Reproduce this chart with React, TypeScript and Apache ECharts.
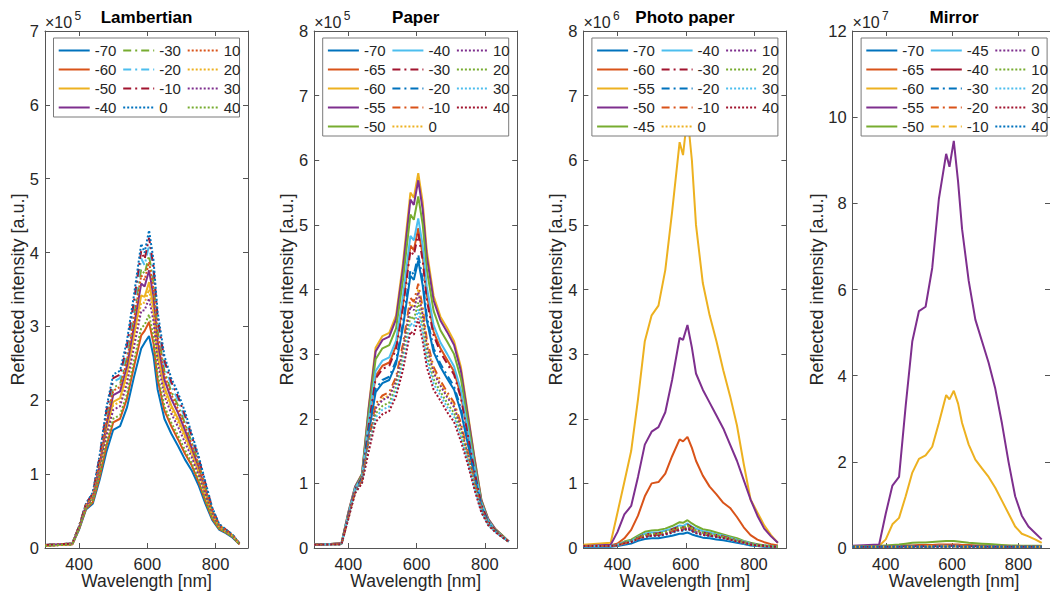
import React, { useEffect, useRef } from "react";
import * as echarts from "echarts";

// Wavelength grid [nm]
const WL = [300, 380, 400, 420, 440, 460, 480, 500, 520, 540, 560, 582, 592, 605, 618, 630, 650, 670, 690, 710, 730, 750, 770, 790, 810, 830, 850, 870];

// Lambertian (x1e5)
const LAM_M70 = [0.03, 0.05, 0.25, 0.52, 0.6, 0.92, 1.3, 1.6, 1.65, 1.9, 2.3, 2.7, 2.78, 2.87, 2.6, 2.15, 1.75, 1.55, 1.38, 1.2, 1.05, 0.85, 0.6, 0.38, 0.25, 0.2, 0.14, 0.05];
const LAM_M60 = [0.03, 0.05, 0.26, 0.53, 0.62, 0.96, 1.38, 1.7, 1.75, 2.02, 2.44, 2.88, 2.94, 3.06, 2.77, 2.29, 1.86, 1.65, 1.47, 1.28, 1.12, 0.9, 0.64, 0.4, 0.26, 0.21, 0.15, 0.05];
const LAM_M50 = [0.03, 0.05, 0.28, 0.56, 0.68, 1.09, 1.61, 1.98, 2.03, 2.36, 2.86, 3.42, 3.4, 3.6, 3.26, 2.69, 2.18, 1.93, 1.75, 1.53, 1.31, 1.05, 0.75, 0.47, 0.29, 0.23, 0.16, 0.06];
const LAM_M40 = [0.04, 0.06, 0.28, 0.57, 0.69, 1.12, 1.67, 2.07, 2.12, 2.46, 2.98, 3.58, 3.54, 3.76, 3.41, 2.8, 2.28, 2.02, 1.83, 1.6, 1.36, 1.1, 0.79, 0.49, 0.3, 0.23, 0.16, 0.06];
const LAM_M30 = [0.04, 0.06, 0.29, 0.58, 0.71, 1.17, 1.76, 2.17, 2.22, 2.58, 3.14, 3.78, 3.71, 3.96, 3.59, 2.95, 2.4, 2.12, 1.93, 1.69, 1.43, 1.15, 0.83, 0.51, 0.31, 0.24, 0.17, 0.06];
const LAM_M20 = [0.04, 0.06, 0.29, 0.59, 0.73, 1.2, 1.82, 2.25, 2.3, 2.67, 3.25, 3.92, 3.83, 4.1, 3.72, 3.05, 2.48, 2.2, 2.0, 1.76, 1.48, 1.19, 0.86, 0.53, 0.32, 0.24, 0.17, 0.06];
const LAM_M10 = [0.04, 0.06, 0.3, 0.6, 0.74, 1.23, 1.86, 2.3, 2.35, 2.74, 3.32, 4.02, 3.91, 4.2, 3.81, 3.13, 2.54, 2.25, 2.05, 1.8, 1.52, 1.22, 0.88, 0.54, 0.32, 0.25, 0.18, 0.06];
const LAM_0 = [0.04, 0.06, 0.3, 0.6, 0.75, 1.25, 1.9, 2.35, 2.4, 2.8, 3.4, 4.12, 4.0, 4.3, 3.9, 3.2, 2.6, 2.3, 2.1, 1.85, 1.55, 1.25, 0.9, 0.55, 0.33, 0.25, 0.18, 0.06];
const LAM_10 = [0.04, 0.06, 0.29, 0.58, 0.71, 1.15, 1.72, 2.13, 2.18, 2.53, 3.07, 3.69, 3.63, 3.87, 3.51, 2.89, 2.35, 2.08, 1.88, 1.66, 1.4, 1.13, 0.81, 0.5, 0.31, 0.24, 0.17, 0.06];
const LAM_20 = [0.03, 0.05, 0.27, 0.56, 0.67, 1.07, 1.56, 1.93, 1.98, 2.3, 2.78, 3.32, 3.32, 3.5, 3.17, 2.61, 2.12, 1.88, 1.7, 1.49, 1.27, 1.03, 0.73, 0.45, 0.29, 0.22, 0.16, 0.05];
const LAM_30 = [0.03, 0.05, 0.27, 0.55, 0.65, 1.04, 1.52, 1.87, 1.92, 2.22, 2.7, 3.21, 3.22, 3.38, 3.07, 2.53, 2.06, 1.82, 1.64, 1.43, 1.23, 0.99, 0.71, 0.44, 0.28, 0.22, 0.15, 0.05];
const LAM_40 = [0.03, 0.05, 0.26, 0.54, 0.63, 0.99, 1.42, 1.75, 1.8, 2.08, 2.52, 2.98, 3.02, 3.16, 2.86, 2.36, 1.92, 1.7, 1.52, 1.33, 1.15, 0.93, 0.66, 0.41, 0.27, 0.21, 0.15, 0.05];

// Paper (x1e5)
const PAP_M70 = [0.05, 0.06, 0.49, 0.89, 1.06, 1.78, 2.41, 2.55, 2.6, 2.85, 3.41, 4.21, 4.15, 4.45, 4.06, 3.52, 3.03, 2.8, 2.62, 2.45, 2.11, 1.62, 1.1, 0.63, 0.39, 0.27, 0.18, 0.1];
const PAP_M65 = [0.05, 0.07, 0.51, 0.91, 1.09, 1.93, 2.66, 2.82, 2.87, 3.13, 3.77, 4.68, 4.61, 4.95, 4.53, 3.92, 3.35, 3.09, 2.91, 2.73, 2.36, 1.8, 1.21, 0.67, 0.41, 0.28, 0.19, 0.1];
const PAP_M60 = [0.05, 0.07, 0.55, 0.95, 1.15, 2.2, 3.1, 3.28, 3.33, 3.6, 4.4, 5.5, 5.42, 5.8, 5.35, 4.6, 3.9, 3.58, 3.4, 3.2, 2.8, 2.1, 1.4, 0.75, 0.45, 0.3, 0.2, 0.1];
const PAP_M55 = [0.05, 0.07, 0.55, 0.95, 1.14, 2.17, 3.04, 3.22, 3.27, 3.54, 4.32, 5.39, 5.31, 5.69, 5.24, 4.51, 3.83, 3.52, 3.34, 3.14, 2.74, 2.06, 1.38, 0.74, 0.45, 0.3, 0.2, 0.1];
const PAP_M50 = [0.05, 0.07, 0.53, 0.93, 1.13, 2.09, 2.92, 3.09, 3.14, 3.4, 4.14, 5.16, 5.08, 5.44, 5.01, 4.31, 3.67, 3.37, 3.19, 3.0, 2.62, 1.97, 1.32, 0.72, 0.43, 0.29, 0.2, 0.1];
const PAP_M40 = [0.05, 0.07, 0.52, 0.92, 1.1, 1.98, 2.74, 2.9, 2.95, 3.21, 3.89, 4.83, 4.76, 5.1, 4.68, 4.04, 3.45, 3.18, 3.0, 2.81, 2.44, 1.85, 1.25, 0.69, 0.42, 0.28, 0.19, 0.1];
const PAP_M30 = [0.05, 0.07, 0.51, 0.91, 1.09, 1.91, 2.62, 2.77, 2.82, 3.08, 3.71, 4.6, 4.53, 4.86, 4.45, 3.84, 3.29, 3.03, 2.85, 2.68, 2.32, 1.76, 1.19, 0.67, 0.41, 0.28, 0.19, 0.1];
const PAP_M20 = [0.05, 0.06, 0.49, 0.89, 1.07, 1.81, 2.46, 2.6, 2.65, 2.9, 3.48, 4.3, 4.23, 4.54, 4.15, 3.59, 3.09, 2.85, 2.67, 2.5, 2.16, 1.65, 1.12, 0.64, 0.39, 0.27, 0.18, 0.1];
const PAP_M10 = [0.05, 0.06, 0.47, 0.87, 1.04, 1.67, 2.23, 2.36, 2.41, 2.65, 3.15, 3.87, 3.81, 4.09, 3.72, 3.23, 2.8, 2.59, 2.41, 2.25, 1.93, 1.49, 1.02, 0.6, 0.37, 0.26, 0.18, 0.1];
const PAP_0 = [0.05, 0.06, 0.47, 0.87, 1.03, 1.64, 2.18, 2.31, 2.36, 2.6, 3.08, 3.78, 3.72, 4.0, 3.63, 3.16, 2.74, 2.54, 2.36, 2.2, 1.88, 1.46, 1.0, 0.59, 0.37, 0.26, 0.18, 0.1];
const PAP_10 = [0.05, 0.06, 0.47, 0.87, 1.03, 1.63, 2.16, 2.29, 2.34, 2.58, 3.05, 3.74, 3.68, 3.96, 3.59, 3.12, 2.71, 2.51, 2.33, 2.18, 1.86, 1.44, 0.99, 0.59, 0.37, 0.26, 0.18, 0.1];
const PAP_20 = [0.05, 0.06, 0.46, 0.86, 1.02, 1.58, 2.08, 2.2, 2.25, 2.49, 2.93, 3.59, 3.53, 3.8, 3.44, 3.0, 2.61, 2.42, 2.24, 2.09, 1.78, 1.39, 0.96, 0.57, 0.36, 0.26, 0.17, 0.1];
const PAP_30 = [0.05, 0.06, 0.46, 0.86, 1.01, 1.54, 2.02, 2.14, 2.19, 2.43, 2.85, 3.48, 3.43, 3.69, 3.33, 2.91, 2.54, 2.36, 2.18, 2.03, 1.72, 1.35, 0.93, 0.56, 0.36, 0.25, 0.17, 0.1];
const PAP_40 = [0.05, 0.06, 0.45, 0.85, 1.0, 1.5, 1.95, 2.07, 2.12, 2.35, 2.75, 3.35, 3.3, 3.55, 3.2, 2.8, 2.45, 2.28, 2.1, 1.95, 1.65, 1.3, 0.9, 0.55, 0.35, 0.25, 0.17, 0.1];

// Photo paper (x1e6)
const PHO_M70 = [0.02, 0.02, 0.03, 0.05, 0.07, 0.11, 0.14, 0.15, 0.15, 0.17, 0.19, 0.22, 0.22, 0.24, 0.21, 0.19, 0.16, 0.15, 0.13, 0.12, 0.1, 0.08, 0.06, 0.04, 0.03, 0.02, 0.02, 0.02];
const PHO_M60 = [0.03, 0.04, 0.07, 0.15, 0.28, 0.5, 0.8, 1.0, 1.02, 1.15, 1.42, 1.68, 1.65, 1.72, 1.55, 1.35, 1.12, 0.95, 0.83, 0.7, 0.62, 0.48, 0.32, 0.2, 0.13, 0.09, 0.06, 0.04];
const PHO_M55 = [0.05, 0.08, 0.55, 1.02, 1.5, 2.3, 3.2, 3.6, 3.75, 4.3, 5.2, 6.28, 6.08, 6.7, 6.0, 5.0, 4.1, 3.6, 3.2, 2.75, 2.35, 1.9, 1.3, 0.75, 0.55, 0.35, 0.2, 0.08];
const PHO_M50 = [0.03, 0.05, 0.25, 0.52, 0.65, 1.1, 1.6, 1.8, 1.87, 2.1, 2.6, 3.25, 3.22, 3.45, 3.1, 2.7, 2.45, 2.25, 2.05, 1.85, 1.6, 1.35, 1.05, 0.75, 0.5, 0.3, 0.18, 0.08];
const PHO_M45 = [0.03, 0.03, 0.05, 0.1, 0.13, 0.19, 0.25, 0.27, 0.28, 0.3, 0.34, 0.4, 0.39, 0.43, 0.38, 0.34, 0.29, 0.27, 0.24, 0.21, 0.18, 0.15, 0.11, 0.08, 0.06, 0.04, 0.03, 0.03];
const PHO_M40 = [0.03, 0.03, 0.05, 0.09, 0.11, 0.17, 0.22, 0.24, 0.24, 0.27, 0.3, 0.35, 0.34, 0.38, 0.33, 0.3, 0.26, 0.24, 0.21, 0.19, 0.16, 0.13, 0.1, 0.07, 0.05, 0.04, 0.03, 0.03];
const PHO_M30 = [0.03, 0.03, 0.04, 0.08, 0.11, 0.16, 0.21, 0.22, 0.23, 0.25, 0.29, 0.33, 0.32, 0.36, 0.32, 0.28, 0.24, 0.22, 0.2, 0.18, 0.15, 0.12, 0.09, 0.07, 0.05, 0.04, 0.03, 0.02];
const PHO_M20 = [0.03, 0.03, 0.04, 0.07, 0.09, 0.14, 0.18, 0.19, 0.2, 0.22, 0.25, 0.29, 0.28, 0.31, 0.27, 0.24, 0.21, 0.19, 0.17, 0.16, 0.13, 0.11, 0.08, 0.06, 0.04, 0.03, 0.02, 0.02];
const PHO_M10 = [0.03, 0.03, 0.04, 0.07, 0.1, 0.15, 0.19, 0.2, 0.21, 0.23, 0.26, 0.3, 0.3, 0.33, 0.29, 0.26, 0.22, 0.2, 0.18, 0.17, 0.14, 0.11, 0.08, 0.06, 0.04, 0.03, 0.03, 0.02];
const PHO_0 = [0.03, 0.03, 0.04, 0.08, 0.1, 0.15, 0.2, 0.21, 0.22, 0.24, 0.27, 0.31, 0.3, 0.34, 0.3, 0.27, 0.23, 0.21, 0.19, 0.17, 0.14, 0.12, 0.09, 0.06, 0.04, 0.03, 0.03, 0.02];
const PHO_10 = [0.03, 0.03, 0.04, 0.07, 0.1, 0.14, 0.19, 0.2, 0.2, 0.22, 0.26, 0.29, 0.29, 0.32, 0.28, 0.25, 0.22, 0.2, 0.18, 0.16, 0.13, 0.11, 0.08, 0.06, 0.04, 0.03, 0.03, 0.02];
const PHO_20 = [0.03, 0.03, 0.04, 0.08, 0.1, 0.16, 0.2, 0.22, 0.22, 0.25, 0.28, 0.32, 0.31, 0.35, 0.31, 0.27, 0.24, 0.22, 0.2, 0.17, 0.15, 0.12, 0.09, 0.06, 0.05, 0.04, 0.03, 0.02];
const PHO_30 = [0.03, 0.03, 0.04, 0.06, 0.09, 0.13, 0.17, 0.18, 0.19, 0.2, 0.23, 0.27, 0.26, 0.29, 0.26, 0.23, 0.2, 0.18, 0.16, 0.15, 0.12, 0.1, 0.07, 0.05, 0.04, 0.03, 0.02, 0.02];
const PHO_40 = [0.03, 0.03, 0.04, 0.07, 0.09, 0.14, 0.17, 0.19, 0.19, 0.21, 0.24, 0.28, 0.27, 0.3, 0.26, 0.23, 0.2, 0.19, 0.17, 0.15, 0.13, 0.1, 0.08, 0.05, 0.04, 0.03, 0.02, 0.02];

// Mirror (x1e7)
const MIR_M70 = [0.03, 0.03, 0.04, 0.04, 0.04, 0.05, 0.05, 0.05, 0.05, 0.06, 0.06, 0.06, 0.06, 0.06, 0.06, 0.05, 0.05, 0.05, 0.05, 0.05, 0.04, 0.04, 0.04, 0.04, 0.04, 0.03, 0.03, 0.03];
const MIR_M65 = [0.03, 0.03, 0.04, 0.05, 0.05, 0.06, 0.06, 0.07, 0.07, 0.07, 0.08, 0.08, 0.08, 0.08, 0.08, 0.07, 0.07, 0.06, 0.06, 0.06, 0.05, 0.05, 0.05, 0.04, 0.04, 0.04, 0.03, 0.03];
const MIR_M60 = [0.03, 0.05, 0.2, 0.55, 0.7, 1.2, 1.75, 2.07, 2.15, 2.35, 2.9, 3.55, 3.45, 3.65, 3.35, 2.9, 2.4, 2.05, 1.85, 1.65, 1.4, 1.1, 0.8, 0.5, 0.33, 0.27, 0.2, 0.12];
const MIR_M55 = [0.05, 0.08, 0.8, 1.45, 1.65, 3.3, 4.8, 5.5, 5.6, 6.5, 8.1, 9.15, 8.85, 9.45, 8.5, 7.4, 6.2, 5.3, 4.8, 4.3, 3.7, 2.9, 2.0, 1.2, 0.75, 0.5, 0.35, 0.2];
const MIR_M50 = [0.04, 0.05, 0.06, 0.07, 0.08, 0.1, 0.12, 0.13, 0.13, 0.14, 0.15, 0.16, 0.16, 0.16, 0.15, 0.14, 0.12, 0.11, 0.1, 0.09, 0.08, 0.07, 0.06, 0.06, 0.05, 0.05, 0.05, 0.05];
const MIR_M45 = [0.03, 0.03, 0.03, 0.03, 0.04, 0.04, 0.04, 0.04, 0.04, 0.04, 0.05, 0.05, 0.05, 0.05, 0.05, 0.04, 0.04, 0.04, 0.04, 0.04, 0.04, 0.03, 0.03, 0.03, 0.03, 0.03, 0.03, 0.03];
const MIR_M40 = [0.03, 0.03, 0.03, 0.03, 0.03, 0.04, 0.04, 0.04, 0.04, 0.04, 0.04, 0.05, 0.05, 0.05, 0.04, 0.04, 0.04, 0.04, 0.04, 0.03, 0.03, 0.03, 0.03, 0.03, 0.03, 0.03, 0.03, 0.03];
const MIR_M30 = [0.03, 0.03, 0.03, 0.03, 0.03, 0.03, 0.04, 0.04, 0.04, 0.04, 0.04, 0.04, 0.04, 0.04, 0.04, 0.04, 0.04, 0.04, 0.03, 0.03, 0.03, 0.03, 0.03, 0.03, 0.03, 0.03, 0.03, 0.03];
const MIR_M20 = [0.03, 0.03, 0.03, 0.03, 0.03, 0.03, 0.03, 0.04, 0.04, 0.04, 0.04, 0.04, 0.04, 0.04, 0.04, 0.04, 0.03, 0.03, 0.03, 0.03, 0.03, 0.03, 0.03, 0.03, 0.03, 0.03, 0.03, 0.03];
const MIR_M10 = [0.03, 0.03, 0.03, 0.03, 0.03, 0.03, 0.03, 0.03, 0.04, 0.04, 0.04, 0.04, 0.04, 0.04, 0.04, 0.03, 0.03, 0.03, 0.03, 0.03, 0.03, 0.03, 0.03, 0.03, 0.03, 0.03, 0.03, 0.03];
const MIR_0 = [0.03, 0.03, 0.03, 0.03, 0.03, 0.03, 0.03, 0.03, 0.03, 0.04, 0.04, 0.04, 0.04, 0.04, 0.04, 0.03, 0.03, 0.03, 0.03, 0.03, 0.03, 0.03, 0.03, 0.03, 0.03, 0.03, 0.03, 0.03];
const MIR_10 = [0.03, 0.03, 0.03, 0.03, 0.03, 0.03, 0.03, 0.03, 0.03, 0.03, 0.04, 0.04, 0.04, 0.04, 0.03, 0.03, 0.03, 0.03, 0.03, 0.03, 0.03, 0.03, 0.03, 0.03, 0.03, 0.03, 0.03, 0.03];
const MIR_20 = [0.03, 0.03, 0.03, 0.03, 0.03, 0.03, 0.03, 0.03, 0.03, 0.03, 0.03, 0.04, 0.04, 0.04, 0.03, 0.03, 0.03, 0.03, 0.03, 0.03, 0.03, 0.03, 0.03, 0.03, 0.03, 0.03, 0.03, 0.03];
const MIR_30 = [0.03, 0.03, 0.03, 0.03, 0.03, 0.03, 0.03, 0.03, 0.03, 0.03, 0.03, 0.03, 0.04, 0.04, 0.03, 0.03, 0.03, 0.03, 0.03, 0.03, 0.03, 0.03, 0.03, 0.03, 0.03, 0.03, 0.03, 0.03];
const MIR_40 = [0.03, 0.03, 0.03, 0.03, 0.03, 0.03, 0.03, 0.03, 0.03, 0.03, 0.03, 0.03, 0.03, 0.04, 0.03, 0.03, 0.03, 0.03, 0.03, 0.03, 0.03, 0.03, 0.03, 0.03, 0.03, 0.03, 0.03, 0.03];

const X_TICKS = [400, 600, 800];
const TITLES = ["Lambertian", "Paper", "Photo paper", "Mirror"];
const EXPONENTS = ["5", "5", "6", "7"];
const Y_MAX = [7, 8, 8, 12];
const Y_STEP = [1, 1, 1, 2];

const COLORS: Record<string, string> = {
  b: "#0072BD", o: "#D95319", y: "#EDB120", p: "#7E2F8E", g: "#77AC30", c: "#4DBEEE", r: "#A2142F",
};

type S = [string, number[], string, string];
const PANEL_SERIES: S[][] = [
  [
    ["-70", LAM_M70, "b", "-"], ["-60", LAM_M60, "o", "-"], ["-50", LAM_M50, "y", "-"], ["-40", LAM_M40, "p", "-"],
    ["-30", LAM_M30, "g", "-."], ["-20", LAM_M20, "c", "-."], ["-10", LAM_M10, "r", "-."],
    ["0", LAM_0, "b", ":"], ["10", LAM_10, "o", ":"], ["20", LAM_20, "y", ":"], ["30", LAM_30, "p", ":"], ["40", LAM_40, "g", ":"],
  ],
  [
    ["-70", PAP_M70, "b", "-"], ["-65", PAP_M65, "o", "-"], ["-60", PAP_M60, "y", "-"], ["-55", PAP_M55, "p", "-"], ["-50", PAP_M50, "g", "-"],
    ["-40", PAP_M40, "c", "-"], ["-30", PAP_M30, "r", "-."], ["-20", PAP_M20, "b", "-."], ["-10", PAP_M10, "o", "-."], ["0", PAP_0, "y", ":"],
    ["10", PAP_10, "p", ":"], ["20", PAP_20, "g", ":"], ["30", PAP_30, "c", ":"], ["40", PAP_40, "r", ":"],
  ],
  [
    ["-70", PHO_M70, "b", "-"], ["-60", PHO_M60, "o", "-"], ["-55", PHO_M55, "y", "-"], ["-50", PHO_M50, "p", "-"], ["-45", PHO_M45, "g", "-"],
    ["-40", PHO_M40, "c", "-"], ["-30", PHO_M30, "r", "-."], ["-20", PHO_M20, "b", "-."], ["-10", PHO_M10, "o", "-."], ["0", PHO_0, "y", ":"],
    ["10", PHO_10, "p", ":"], ["20", PHO_20, "g", ":"], ["30", PHO_30, "c", ":"], ["40", PHO_40, "r", ":"],
  ],
  [
    ["-70", MIR_M70, "b", "-"], ["-65", MIR_M65, "o", "-"], ["-60", MIR_M60, "y", "-"], ["-55", MIR_M55, "p", "-"], ["-50", MIR_M50, "g", "-"],
    ["-45", MIR_M45, "c", "-"], ["-40", MIR_M40, "r", "-"], ["-30", MIR_M30, "b", "-."], ["-20", MIR_M20, "o", "-."], ["-10", MIR_M10, "y", "-."],
    ["0", MIR_0, "p", ":"], ["10", MIR_10, "g", ":"], ["20", MIR_20, "c", ":"], ["30", MIR_30, "r", ":"], ["40", MIR_40, "b", ":"],
  ],
];

const FONT = '"Liberation Sans", Arial, Helvetica, sans-serif';
const TXT = "#262626";
const AX = "#555555";
const PANEL_LEFT = [45, 314.2, 583.4, 852.6];
const PANEL_W = 203;
const PANEL_TOP = 31;
const PANEL_H = 517;

function dashOf(s: string): any {
  if (s === "-.") return [8, 4, 2, 4];
  if (s === ":") return [2, 2];
  return "solid";
}

function buildOption() {
  const grid: any[] = [];
  const xAxis: any[] = [];
  const yAxis: any[] = [];
  const series: any[] = [];
  const legend: any[] = [];
  const graphic: any[] = [];

  PANEL_SERIES.forEach((list, p) => {
    const L = PANEL_LEFT[p];
    grid.push({ left: L, top: PANEL_TOP, width: PANEL_W, height: PANEL_H, containLabel: false });
    const xBase = {
      type: "value", gridIndex: p, min: 300, max: 895,
      axisLine: { show: true, onZero: false, lineStyle: { color: AX, width: 1 } },
      axisTick: { show: true, inside: true, length: 5, customValues: X_TICKS, lineStyle: { color: AX } },
      splitLine: { show: false },
    };
    xAxis.push({ ...xBase, position: "bottom",
      axisLabel: { show: true, customValues: X_TICKS, color: TXT, fontSize: 16.5, fontFamily: FONT, margin: 7 } });
    xAxis.push({ ...xBase, position: "top", axisLabel: { show: false } });
    const yBase = {
      type: "value", gridIndex: p, min: 0, max: Y_MAX[p], interval: Y_STEP[p],
      axisLine: { show: true, onZero: false, lineStyle: { color: AX, width: 1 } },
      axisTick: { show: true, inside: true, length: 5, lineStyle: { color: AX } },
      splitLine: { show: false },
    };
    yAxis.push({ ...yBase, position: "left",
      axisLabel: { show: true, color: TXT, fontSize: 16.5, fontFamily: FONT, margin: 6 } });
    yAxis.push({ ...yBase, position: "right", axisLabel: { show: false } });

    list.forEach(([name, arr, col, st]) => {
      series.push({
        name: `${p}|${name}`,
        type: "line",
        xAxisIndex: 2 * p,
        yAxisIndex: 2 * p,
        data: WL.map((w, i) => [w, arr[i]]),
        symbol: "none",
        showSymbol: false,
        lineStyle: { color: COLORS[col], width: 2, type: dashOf(st) },
        itemStyle: { color: COLORS[col] },
        emphasis: { disabled: true },
      });
    });

    // legend columns
    const rows = list.length > 12 ? 5 : 4;
    const colX = [12.7, 77.2, 141.7];
    for (let c = 0; c < 3; c++) {
      const names = list.slice(c * rows, c * rows + rows).map((s) => `${p}|${s[0]}`);
      if (!names.length) continue;
      legend.push({
        data: names,
        orient: "vertical",
        left: L + colX[c],
        top: 43,
        padding: 0,
        itemGap: 4,
        itemWidth: 31,
        itemHeight: 14,
        selectedMode: false,
        formatter: (n: string) => n.split("|")[1],
        itemStyle: { color: "rgba(0,0,0,0)", borderWidth: 0, opacity: 0 },
        textStyle: { color: TXT, fontSize: 15, fontFamily: FONT },
        z: 5,
      });
    }
    graphic.push({
      type: "rect", z: 4, silent: true,
      shape: { x: L + 8.5, y: 38, width: 186, height: rows === 4 ? 79 : 98 },
      style: { fill: "#ffffff", stroke: "#7a7a7a", lineWidth: 1 },
    });
    // title
    graphic.push({
      type: "text", z: 10, x: L + PANEL_W / 2, y: 17.5,
      style: { text: TITLES[p], font: `bold 17px ${FONT}`, fill: "#000", align: "center", verticalAlign: "middle" },
    });
    // exponent
    graphic.push({
      type: "text", z: 10, x: L, y: 22.5,
      style: { text: "×10", font: `16px ${FONT}`, fill: TXT, align: "left", verticalAlign: "middle" },
    });
    graphic.push({
      type: "text", z: 10, x: L + 29.5, y: 16,
      style: { text: EXPONENTS[p], font: `12px ${FONT}`, fill: TXT, align: "left", verticalAlign: "middle" },
    });
    // y label
    graphic.push({
      type: "text", z: 10, x: L - (p === 3 ? 36 : 27), y: PANEL_TOP + PANEL_H / 2,
      rotation: Math.PI / 2,
      style: { text: "Reflected intensity [a.u.]", font: `18px ${FONT}`, fill: TXT, align: "center", verticalAlign: "middle" },
    });
    // x label
    graphic.push({
      type: "text", z: 10, x: L + PANEL_W / 2, y: 581,
      style: { text: "Wavelength [nm]", font: `17.5px ${FONT}`, fill: TXT, align: "center", verticalAlign: "middle" },
    });
  });

  return {
    animation: false,
    backgroundColor: "#ffffff",
    textStyle: { fontFamily: FONT },
    grid, xAxis, yAxis, series, legend, graphic,
  };
}

export default function App() {
  const ref = useRef<HTMLDivElement>(null);
  useEffect(() => {
    if (!ref.current) return;
    const chart = echarts.init(ref.current, undefined, { renderer: "svg" });
    chart.setOption(buildOption() as any);
    return () => chart.dispose();
  }, []);
  return <div ref={ref} style={{ position: "fixed", left: 0, top: 0, width: 1050, height: 602 }} />;
}
